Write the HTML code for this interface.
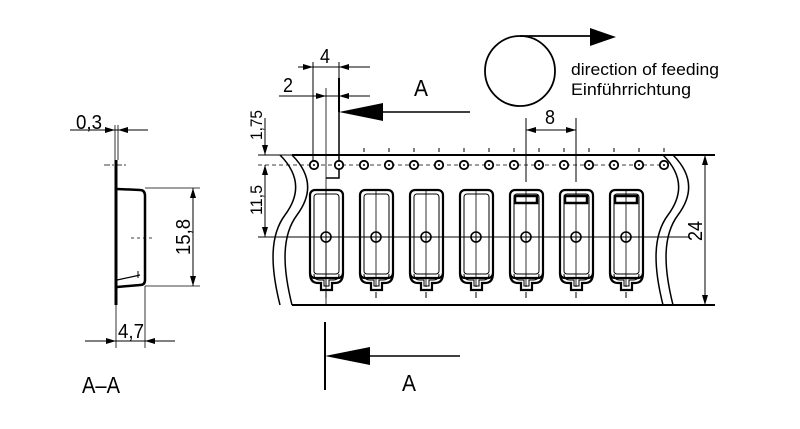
<!DOCTYPE html>
<html><head><style>html,body{margin:0;padding:0;background:#fff}svg{display:block}</style></head>
<body>
<svg width="800" height="429" viewBox="0 0 800 429" xmlns="http://www.w3.org/2000/svg" font-family="Liberation Sans, sans-serif">
<defs>
<marker id="ar" viewBox="0 0 10 6" refX="10" refY="3" markerWidth="11" markerHeight="6" orient="auto-start-reverse" markerUnits="userSpaceOnUse"><path d="M0,0L10,3L0,6z" fill="#000"/></marker>
<g id="pk">
<rect x="-16" y="-47" width="33" height="88" rx="5" fill="none" stroke="#000" stroke-width="2.2"/>
<rect x="-12" y="-43" width="25" height="80" rx="3" fill="none" stroke="#000" stroke-width="1"/>
<path d="M-16,36 Q-16,46 -8,46 L-5,46 L-5,53 L6,53 L6,46 L9,46 Q17,46 17,36" fill="none" stroke="#000" stroke-width="2.2"/>
<path d="M-12,37 Q-12,43 -6,43 L-2,43 L-2,49 L3,49 L3,43 L7,43 Q13,43 13,37" fill="none" stroke="#000" stroke-width="1"/>
<line x1="0" y1="-47" x2="0" y2="50" stroke="#000" stroke-width="0.8"/>
<circle cx="0" cy="0" r="5" fill="#fff" stroke="#000" stroke-width="1.6"/>
<line x1="-5" y1="0" x2="5" y2="0" stroke="#000" stroke-width="1"/>
<line x1="0" y1="-5" x2="0" y2="5" stroke="#000" stroke-width="1"/>
</g>
</defs>
<g stroke="#000" fill="none" stroke-width="1">
<line x1="292" y1="155" x2="715" y2="155" stroke-width="2"/>
<line x1="292" y1="305" x2="715" y2="305" stroke-width="2"/>
<path d="M280,155 C300,175 300,195 285,215 C270,235 270,265 280,305" stroke-width="1.5"/>
<path d="M292,155 C312,175 312,195 297,215 C282,235 282,265 292,305" stroke-width="1.5"/>
<path d="M663,155 C683,175 683,195 668,215 C653,235 653,265 663,305" stroke-width="1.5"/>
<path d="M673,155 C693,175 693,195 678,215 C663,235 663,265 673,305" stroke-width="1.5"/>
<line x1="258" y1="165" x2="668" y2="165" stroke-dasharray="4,3" stroke-width="0.8"/>
<line x1="258" y1="237" x2="690" y2="237" stroke-width="1"/>
<line x1="258" y1="155" x2="292" y2="155"/>
<line x1="265" y1="118" x2="265" y2="155" marker-end="url(#ar)"/>
<line x1="265" y1="165" x2="265" y2="237" marker-start="url(#ar)" marker-end="url(#ar)"/>
<line x1="705" y1="155" x2="705" y2="305" marker-start="url(#ar)" marker-end="url(#ar)"/>
<line x1="313" y1="62" x2="313" y2="165"/>
<line x1="339" y1="62" x2="339" y2="78"/>
<line x1="298" y1="67" x2="370" y2="67"/>
<line x1="298" y1="67" x2="313" y2="67" marker-end="url(#ar)"/>
<line x1="355" y1="67" x2="339" y2="67" marker-end="url(#ar)"/>
<line x1="279" y1="96" x2="370" y2="96"/>
<line x1="310" y1="96" x2="326" y2="96" marker-end="url(#ar)"/>
<line x1="355" y1="96" x2="339" y2="96" marker-end="url(#ar)"/>
<line x1="326" y1="88" x2="326" y2="305" stroke-width="0.8"/>
<path d="M339,78 L339,178 L326,178" stroke-width="1.5"/>
<line x1="339" y1="78" x2="339" y2="112" stroke-width="2"/>
<line x1="383" y1="112" x2="470" y2="112" stroke-width="1.5"/>
<line x1="526" y1="118" x2="526" y2="182"/>
<line x1="576" y1="118" x2="576" y2="182"/>
<line x1="526" y1="130" x2="576" y2="130" marker-start="url(#ar)" marker-end="url(#ar)"/>
<line x1="325" y1="322" x2="325" y2="390" stroke-width="2"/>
<line x1="340" y1="356" x2="460" y2="356" stroke-width="1.5"/>
<circle cx="520" cy="71" r="35" stroke-width="1.8"/>
<line x1="520" y1="36" x2="592" y2="36" stroke-width="1.8"/>
<line x1="116" y1="160" x2="116" y2="305" stroke-width="3"/>
<line x1="115" y1="125" x2="115" y2="160" stroke-width="0.8"/>
<line x1="118" y1="125" x2="118" y2="160" stroke-width="0.8"/>
<line x1="70" y1="130" x2="148" y2="130"/>
<line x1="100" y1="130" x2="115" y2="130" marker-end="url(#ar)"/>
<line x1="133" y1="130" x2="118" y2="130" marker-end="url(#ar)"/>
<line x1="104" y1="165" x2="128" y2="165" stroke-dasharray="6,2,2,2" stroke-width="0.8"/>
<path d="M117,189 L140,190 Q145,190 145,196 L145,280 Q145,285 140,285 L117,287" stroke-width="2.5"/>
<path d="M117,280 L140,275" stroke-width="1.2"/>
<line x1="138" y1="271" x2="138" y2="278"/>
<line x1="131" y1="238" x2="155" y2="238" stroke-dasharray="3,3" stroke-width="0.8"/>
<line x1="145" y1="188" x2="200" y2="188" stroke-width="0.8"/>
<line x1="145" y1="286" x2="200" y2="286" stroke-width="0.8"/>
<line x1="193" y1="188" x2="193" y2="286" marker-start="url(#ar)" marker-end="url(#ar)"/>
<line x1="116" y1="305" x2="116" y2="348" stroke-width="0.8"/>
<line x1="145" y1="286" x2="145" y2="348" stroke-width="0.8"/>
<line x1="85" y1="341" x2="175" y2="341"/>
<line x1="100" y1="341" x2="116" y2="341" marker-end="url(#ar)"/>
<line x1="160" y1="341" x2="145" y2="341" marker-end="url(#ar)"/>
</g>
<path d="M339,112 L383,103 L383,121 Z" fill="#000"/>
<path d="M325,356 L370,347 L370,365 Z" fill="#000"/>
<path d="M616,37 L590,28 L590,46 Z" fill="#000"/>
<g fill="#fff" stroke="#000" stroke-width="1.8">
<circle cx="314" cy="165" r="4.2"/><circle cx="339" cy="165" r="4.2"/><circle cx="364" cy="165" r="4.2"/><circle cx="389" cy="165" r="4.2"/><circle cx="414" cy="165" r="4.2"/><circle cx="439" cy="165" r="4.2"/><circle cx="464" cy="165" r="4.2"/><circle cx="489" cy="165" r="4.2"/><circle cx="514" cy="165" r="4.2"/><circle cx="539" cy="165" r="4.2"/><circle cx="564" cy="165" r="4.2"/><circle cx="589" cy="165" r="4.2"/><circle cx="614" cy="165" r="4.2"/><circle cx="639" cy="165" r="4.2"/><circle cx="664" cy="165" r="4.2"/>
</g>
<g fill="#000"><circle cx="314" cy="165" r="1"/><circle cx="339" cy="165" r="1"/><circle cx="364" cy="165" r="1"/><circle cx="389" cy="165" r="1"/><circle cx="414" cy="165" r="1"/><circle cx="439" cy="165" r="1"/><circle cx="464" cy="165" r="1"/><circle cx="489" cy="165" r="1"/><circle cx="514" cy="165" r="1"/><circle cx="539" cy="165" r="1"/><circle cx="564" cy="165" r="1"/><circle cx="589" cy="165" r="1"/><circle cx="614" cy="165" r="1"/><circle cx="639" cy="165" r="1"/><circle cx="664" cy="165" r="1"/></g>
<g stroke="#000" stroke-width="1">
<line x1="339" y1="148" x2="339" y2="152"/><line x1="364" y1="148" x2="364" y2="152"/><line x1="389" y1="148" x2="389" y2="152"/><line x1="414" y1="148" x2="414" y2="152"/><line x1="439" y1="148" x2="439" y2="152"/><line x1="464" y1="148" x2="464" y2="152"/><line x1="489" y1="148" x2="489" y2="152"/><line x1="514" y1="148" x2="514" y2="152"/><line x1="539" y1="148" x2="539" y2="152"/><line x1="564" y1="148" x2="564" y2="152"/><line x1="589" y1="148" x2="589" y2="152"/><line x1="614" y1="148" x2="614" y2="152"/><line x1="639" y1="148" x2="639" y2="152"/><line x1="664" y1="148" x2="664" y2="152"/>
</g>
<use href="#pk" x="326" y="237"/><use href="#pk" x="376" y="237"/><use href="#pk" x="426" y="237"/><use href="#pk" x="476" y="237"/>
<use href="#pk" x="526" y="237"/><use href="#pk" x="576" y="237"/><use href="#pk" x="626" y="237"/>
<g fill="none" stroke="#000" stroke-width="2.5"><rect x="515" y="196" width="22" height="7"/><rect x="565" y="196" width="22" height="7"/><rect x="615" y="196" width="22" height="7"/></g>
<g stroke="#000" stroke-width="1"><line x1="326" y1="292" x2="326" y2="298"/><line x1="376" y1="292" x2="376" y2="298"/><line x1="426" y1="292" x2="426" y2="298"/><line x1="476" y1="292" x2="476" y2="298"/><line x1="526" y1="292" x2="526" y2="298"/><line x1="576" y1="292" x2="576" y2="298"/><line x1="626" y1="292" x2="626" y2="298"/></g>
<g font-size="20" fill="#000">
<text x="320" y="63" textLength="10" lengthAdjust="spacingAndGlyphs">4</text>
<text x="283" y="92" textLength="10" lengthAdjust="spacingAndGlyphs">2</text>
<text x="414" y="96" font-size="23" textLength="14" lengthAdjust="spacingAndGlyphs">A</text>
<text x="545" y="124" textLength="10" lengthAdjust="spacingAndGlyphs">8</text>
<text x="402" y="391" font-size="23" textLength="14" lengthAdjust="spacingAndGlyphs">A</text>
<text x="76" y="129" textLength="26" lengthAdjust="spacingAndGlyphs">0,3</text>
<text x="118" y="338" textLength="26" lengthAdjust="spacingAndGlyphs">4,7</text>
<text x="82" y="393" font-size="23" textLength="38" lengthAdjust="spacingAndGlyphs">A–A</text>
<text transform="translate(262,140) rotate(-90)" font-size="17" textLength="30" lengthAdjust="spacingAndGlyphs">1,75</text>
<text transform="translate(262,215) rotate(-90)" font-size="17" textLength="30" lengthAdjust="spacingAndGlyphs">11,5</text>
<text transform="translate(190,255) rotate(-90)" textLength="36" lengthAdjust="spacingAndGlyphs">15,8</text>
<text transform="translate(702,241) rotate(-90)" textLength="20" lengthAdjust="spacingAndGlyphs">24</text>
</g>
<text x="571" y="75" font-size="17" textLength="148" lengthAdjust="spacingAndGlyphs">direction of feeding</text>
<text x="571" y="95" font-size="17" textLength="120" lengthAdjust="spacingAndGlyphs">Einführrichtung</text>
</svg>
</body></html>
